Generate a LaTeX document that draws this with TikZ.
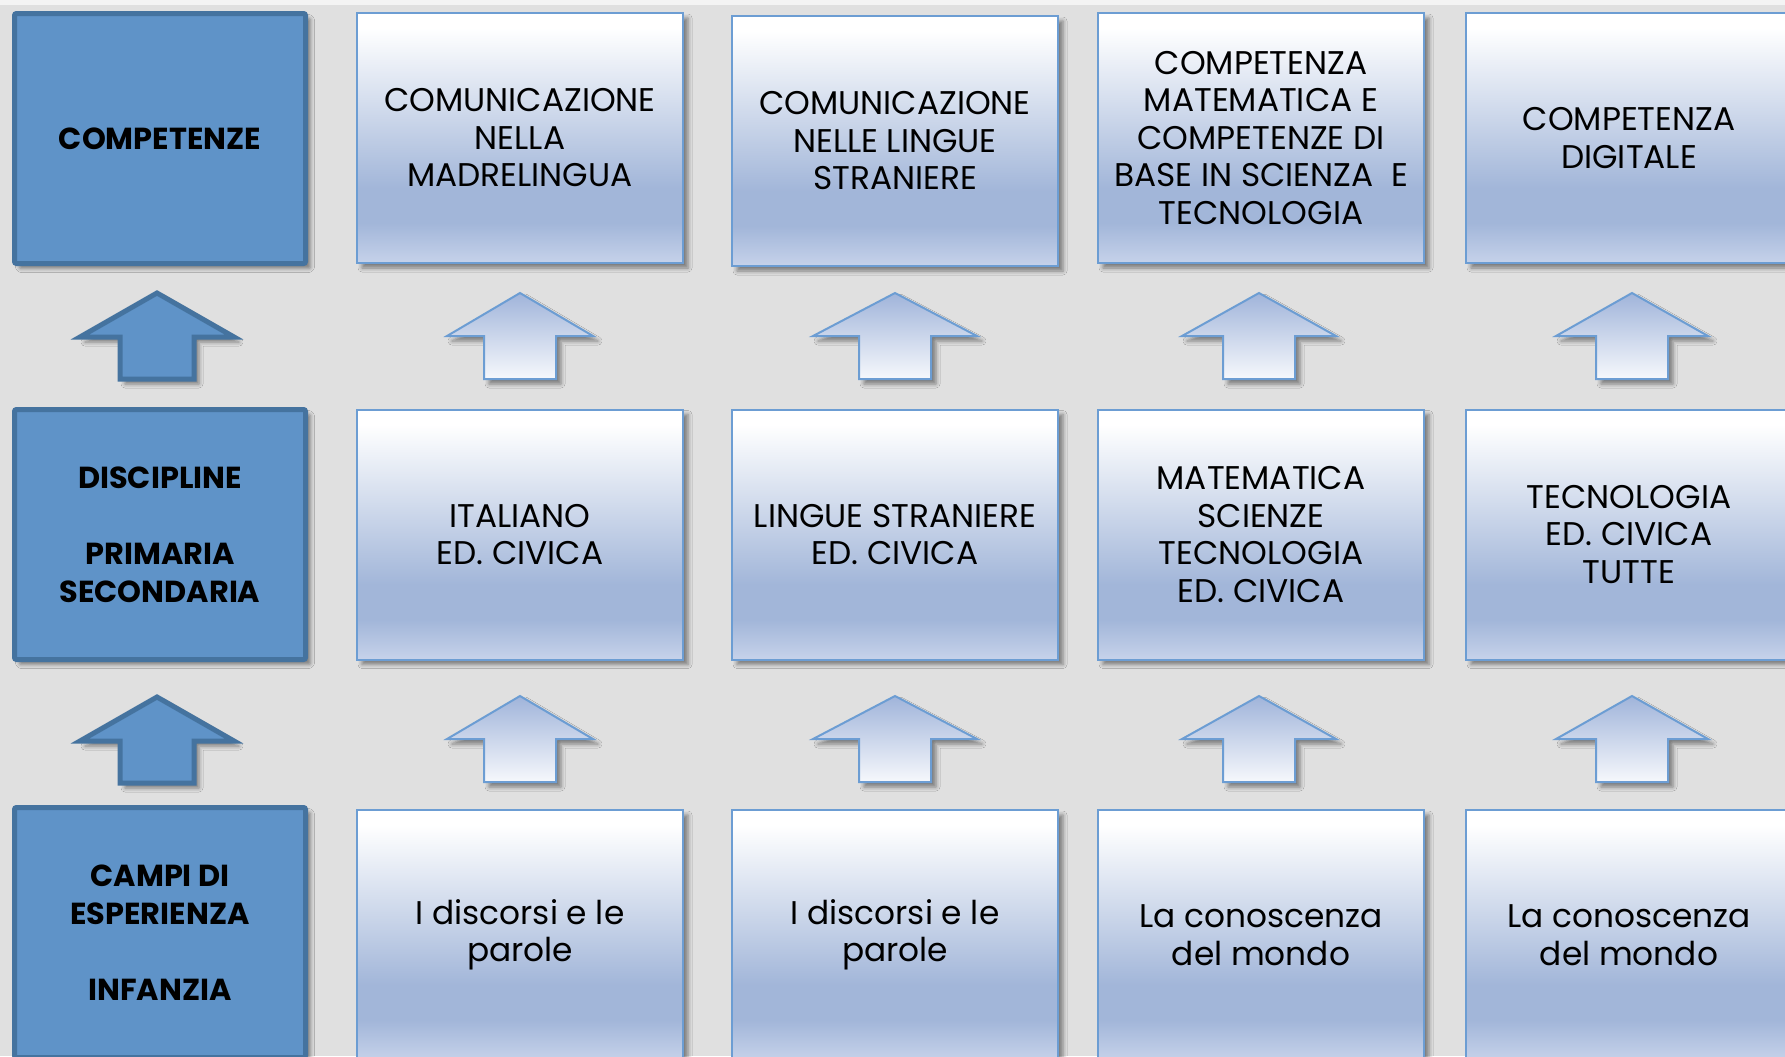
\documentclass[tikz,border=0pt]{standalone}
\usepackage{fontspec}
\setmainfont{Poppins}
\definecolor{deepBlue}{RGB}{95,147,200}
\definecolor{deepEdge}{RGB}{69,115,159}
\definecolor{paleEdge}{RGB}{108,157,211}
\definecolor{paleBlue}{RGB}{162,182,217}
\definecolor{paleBottom}{RGB}{198,210,234}
\definecolor{arrowTop}{RGB}{160,180,218}
\definecolor{arrowBottom}{RGB}{246,248,252}
\definecolor{wallGray}{RGB}{224,224,224}
\definecolor{stripGray}{RGB}{244,244,244}
\usepackage{tikz}
\usetikzlibrary{shapes,positioning,calc,shadows,shadows.blur}

\pgfdeclareverticalshading{paleshade}{100bp}{color(0bp)=(paleBottom); color(25bp)=(paleBottom); color(33bp)=(paleBlue); color(40bp)=(paleBlue); color(72bp)=(white); color(100bp)=(white)}

\tikzset{
  softshadow/.style={blur shadow={shadow xshift=2.5pt,shadow yshift=-2.5pt,shadow blur radius=2pt,shadow opacity=45}},
  deepbox/.style={draw=deepEdge,line width=2.5pt,fill=deepBlue,rounded corners=1pt,
    minimum width=145.5pt,minimum height=125pt,inner sep=0pt,align=center,
    font=\fontsize{15.2}{19}\selectfont\bfseries,softshadow},
  palebox/.style={draw=paleEdge,line width=1pt,shading=paleshade,
    minimum width=163pt,minimum height=125pt,inner sep=0pt,align=center,
    font=\fontsize{16.4}{18.75}\selectfont,softshadow},
  deeparrow/.style={draw=deepEdge,line width=2.5pt,fill=deepBlue,line join=miter,softshadow},
  palearrow/.style={draw=paleEdge,line width=1pt,top color=arrowTop,bottom color=arrowBottom,softshadow}
}

\begin{document}
\begin{tikzpicture}[x=0.5pt,y=-0.5pt]
  \useasboundingbox (0,0) rectangle (1785,1056);
  \clip (0,0) rectangle (1785,1056);
  % wall
  \fill[wallGray] (0,0) rectangle (1785,1056);
  \fill[stripGray] (0,0) rectangle (1785,5);

  % left column
  \node[deepbox] (comp) at (160,138.5) {COMPETENZE};
  \node[deepbox] (disc) at (160,534.5) {DISCIPLINE\\[19pt]PRIMARIA\\SECONDARIA};
  \node[deepbox] (campi) at (160,932.5) {CAMPI DI\\ESPERIENZA\\[19pt]INFANZIA};

  % competenze
  \node[palebox] (top1) at (520,138) {COMUNICAZIONE\\NELLA\\MADRELINGUA};
  \node[palebox] (top2) at (895,141) {COMUNICAZIONE\\NELLE LINGUE\\STRANIERE};
  \node[palebox] (top3) at (1261,138) {COMPETENZA\\MATEMATICA E\\COMPETENZE DI\\BASE IN SCIENZA\ \ E\\TECNOLOGIA};
  \node[palebox] (top4) at (1629,138) {COMPETENZA\\DIGITALE};

  % discipline
  \node[palebox] (mid1) at (520,534.5) {ITALIANO\\ED. CIVICA};
  \node[palebox] (mid2) at (895,534.5) {LINGUE STRANIERE\\ED. CIVICA};
  \node[palebox] (mid3) at (1261,534.5) {MATEMATICA\\SCIENZE\\TECNOLOGIA\\ED. CIVICA};
  \node[palebox] (mid4) at (1629,534.5) {TECNOLOGIA\\ED. CIVICA\\TUTTE};

  % campi di esperienza
  \node[palebox] (bot1) at (520,935) {I discorsi e le\\parole};
  \node[palebox] (bot2) at (895,935) {I discorsi e le\\parole};
  \node[palebox] (bot3) at (1261,935) {La conoscenza\\del mondo};
  \node[palebox] (bot4) at (1629,935) {La conoscenza\\del mondo};

  % block arrows
  \foreach \yt in {293,697}{
    \draw[deeparrow] (157,\yt) -- ++(77,44) -- ++(-40,0) -- ++(0,42) -- ++(-74,0) -- ++(0,-42) -- ++(-40,0) -- cycle;
  }
  \foreach \x/\hw in {520/73,895/82,1259/77,1632/76}{
    \foreach \yt in {293,696}{
      \draw[palearrow] (\x,\yt) -- ++(\hw,43) -- ++({36-\hw},0) -- ++(0,43) -- ++(-72,0) -- ++(0,-43) -- ++({36-\hw},0) -- cycle;
    }
  }
\end{tikzpicture}
\end{document}
